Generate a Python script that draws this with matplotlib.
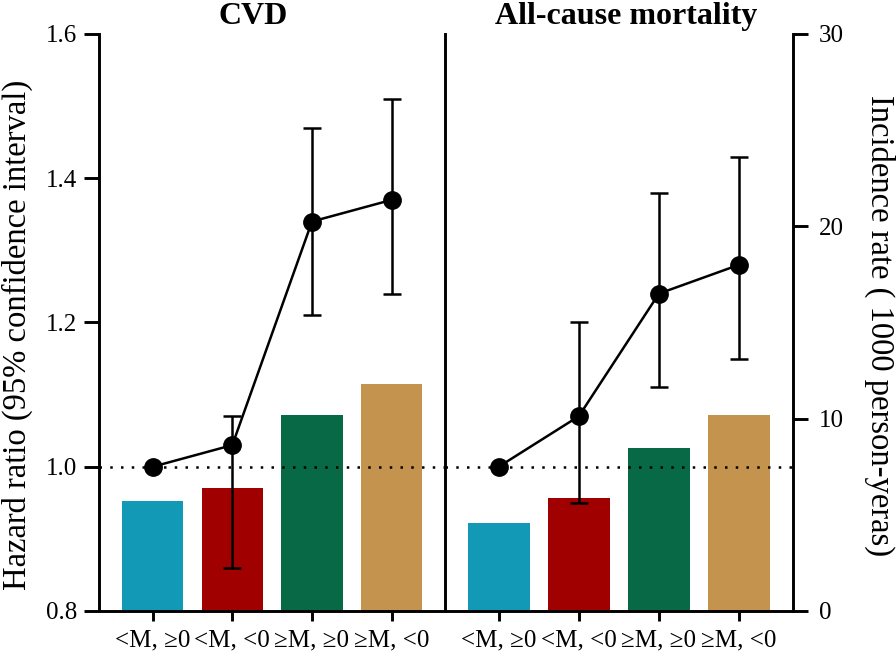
import numpy as np
import matplotlib.pyplot as plt

plt.rcParams['font.family'] = ['Liberation Serif', 'DejaVu Serif']

groups = ['<M, ≥0', '<M, <0', '≥M, ≥0', '≥M, <0']
bar_colors = ['#1199b5', '#a00000', '#076945', '#c4944f']

# CVD panel
cvd_rate = [5.7, 6.4, 10.2, 11.8]
cvd_hr = [1.00, 1.03, 1.34, 1.37]
cvd_lo = [1.00, 0.86, 1.21, 1.24]
cvd_hi = [1.00, 1.07, 1.47, 1.51]

# all-cause mortality panel
death_rate = [4.6, 5.9, 8.5, 10.2]
death_hr = [1.00, 1.07, 1.24, 1.28]
death_lo = [1.00, 0.95, 1.11, 1.15]
death_hi = [1.00, 1.20, 1.38, 1.43]

panels = [('CVD', cvd_rate, cvd_hr, cvd_lo, cvd_hi, 1.26),
          ('All-cause mortality', death_rate, death_hr, death_lo, death_hi, 1.59)]

fig = plt.figure(figsize=(8.96, 6.56), dpi=100)
ax1 = fig.add_axes([0.1108, 0.0686, 0.3859, 0.8796])
ax2 = fig.add_axes([0.4967, 0.0686, 0.3880, 0.8796])

lw = 1.8   # data lines
slw = 2.1  # spines / ticks
x = np.arange(len(groups))

for i, (ax, (title, rate, hr, lo, hi, tx)) in enumerate(zip([ax1, ax2], panels)):
    tw = ax.twinx()
    tw.bar(x, rate, width=0.77, color=bar_colors)
    tw.set_ylim(0, 30)
    ax.set_zorder(tw.get_zorder() + 1)
    ax.patch.set_visible(False)

    hr = np.array(hr)
    err = [hr[1:] - np.array(lo[1:]), np.array(hi[1:]) - hr[1:]]
    ax.errorbar(x[1:], hr[1:], yerr=err, fmt='none', ecolor='black',
                elinewidth=lw, capsize=6.5, capthick=lw)
    ax.plot(x, hr, color='black', lw=lw, marker='o', markersize=12.5)
    ax.axhline(1.0, color='black', lw=1.8, linestyle=(0, (1, 3.3)))

    ax.set_xlim(-0.67, 3.67)
    ax.set_ylim(0.8, 1.6)
    ax.set_xticks(x)
    ax.set_xticklabels(groups, fontsize=18)
    ax.tick_params(axis='x', length=7, width=slw, pad=6)
    for s in ['top', 'right']:
        ax.spines[s].set_visible(False)
    for s in tw.spines.values():
        s.set_visible(False)
    ax.spines['left'].set_linewidth(slw)
    ax.spines['bottom'].set_linewidth(slw)

    ax.annotate(title, xy=(tx, 1.0), xycoords=('data', 'axes fraction'),
                xytext=(0, 12.5), textcoords='offset points',
                ha='center', va='center', fontsize=23, fontweight='bold')

    if i == 0:
        ax.set_yticks([0.8, 1.0, 1.2, 1.4, 1.6])
        ax.set_yticklabels(['0.8', '1.0', '1.2', '1.4', '1.6'], fontsize=18)
        ax.tick_params(axis='y', length=11, width=slw, pad=5)
        tw.tick_params(axis='y', right=False, labelright=False)
    else:
        ax.tick_params(axis='y', left=False, labelleft=False)
        tw.spines['right'].set_visible(True)
        tw.spines['right'].set_linewidth(slw)
        tw.set_yticks([0, 10, 20, 30])
        tw.set_yticklabels(['0', '10', '20', '30'], fontsize=18)
        tw.tick_params(axis='y', length=11, width=slw, pad=8)

fig.text(17 / 896, 1 - 335 / 656, 'Hazard ratio (95% confidence interval)',
         rotation=90, ha='center', va='center', fontsize=23.5)
fig.text(880 / 896, 1 - 326 / 656, 'Incidence rate ( 1000 person-yeras)',
         rotation=270, ha='center', va='center', fontsize=23.5)

fig.savefig('out.png', dpi=100)
